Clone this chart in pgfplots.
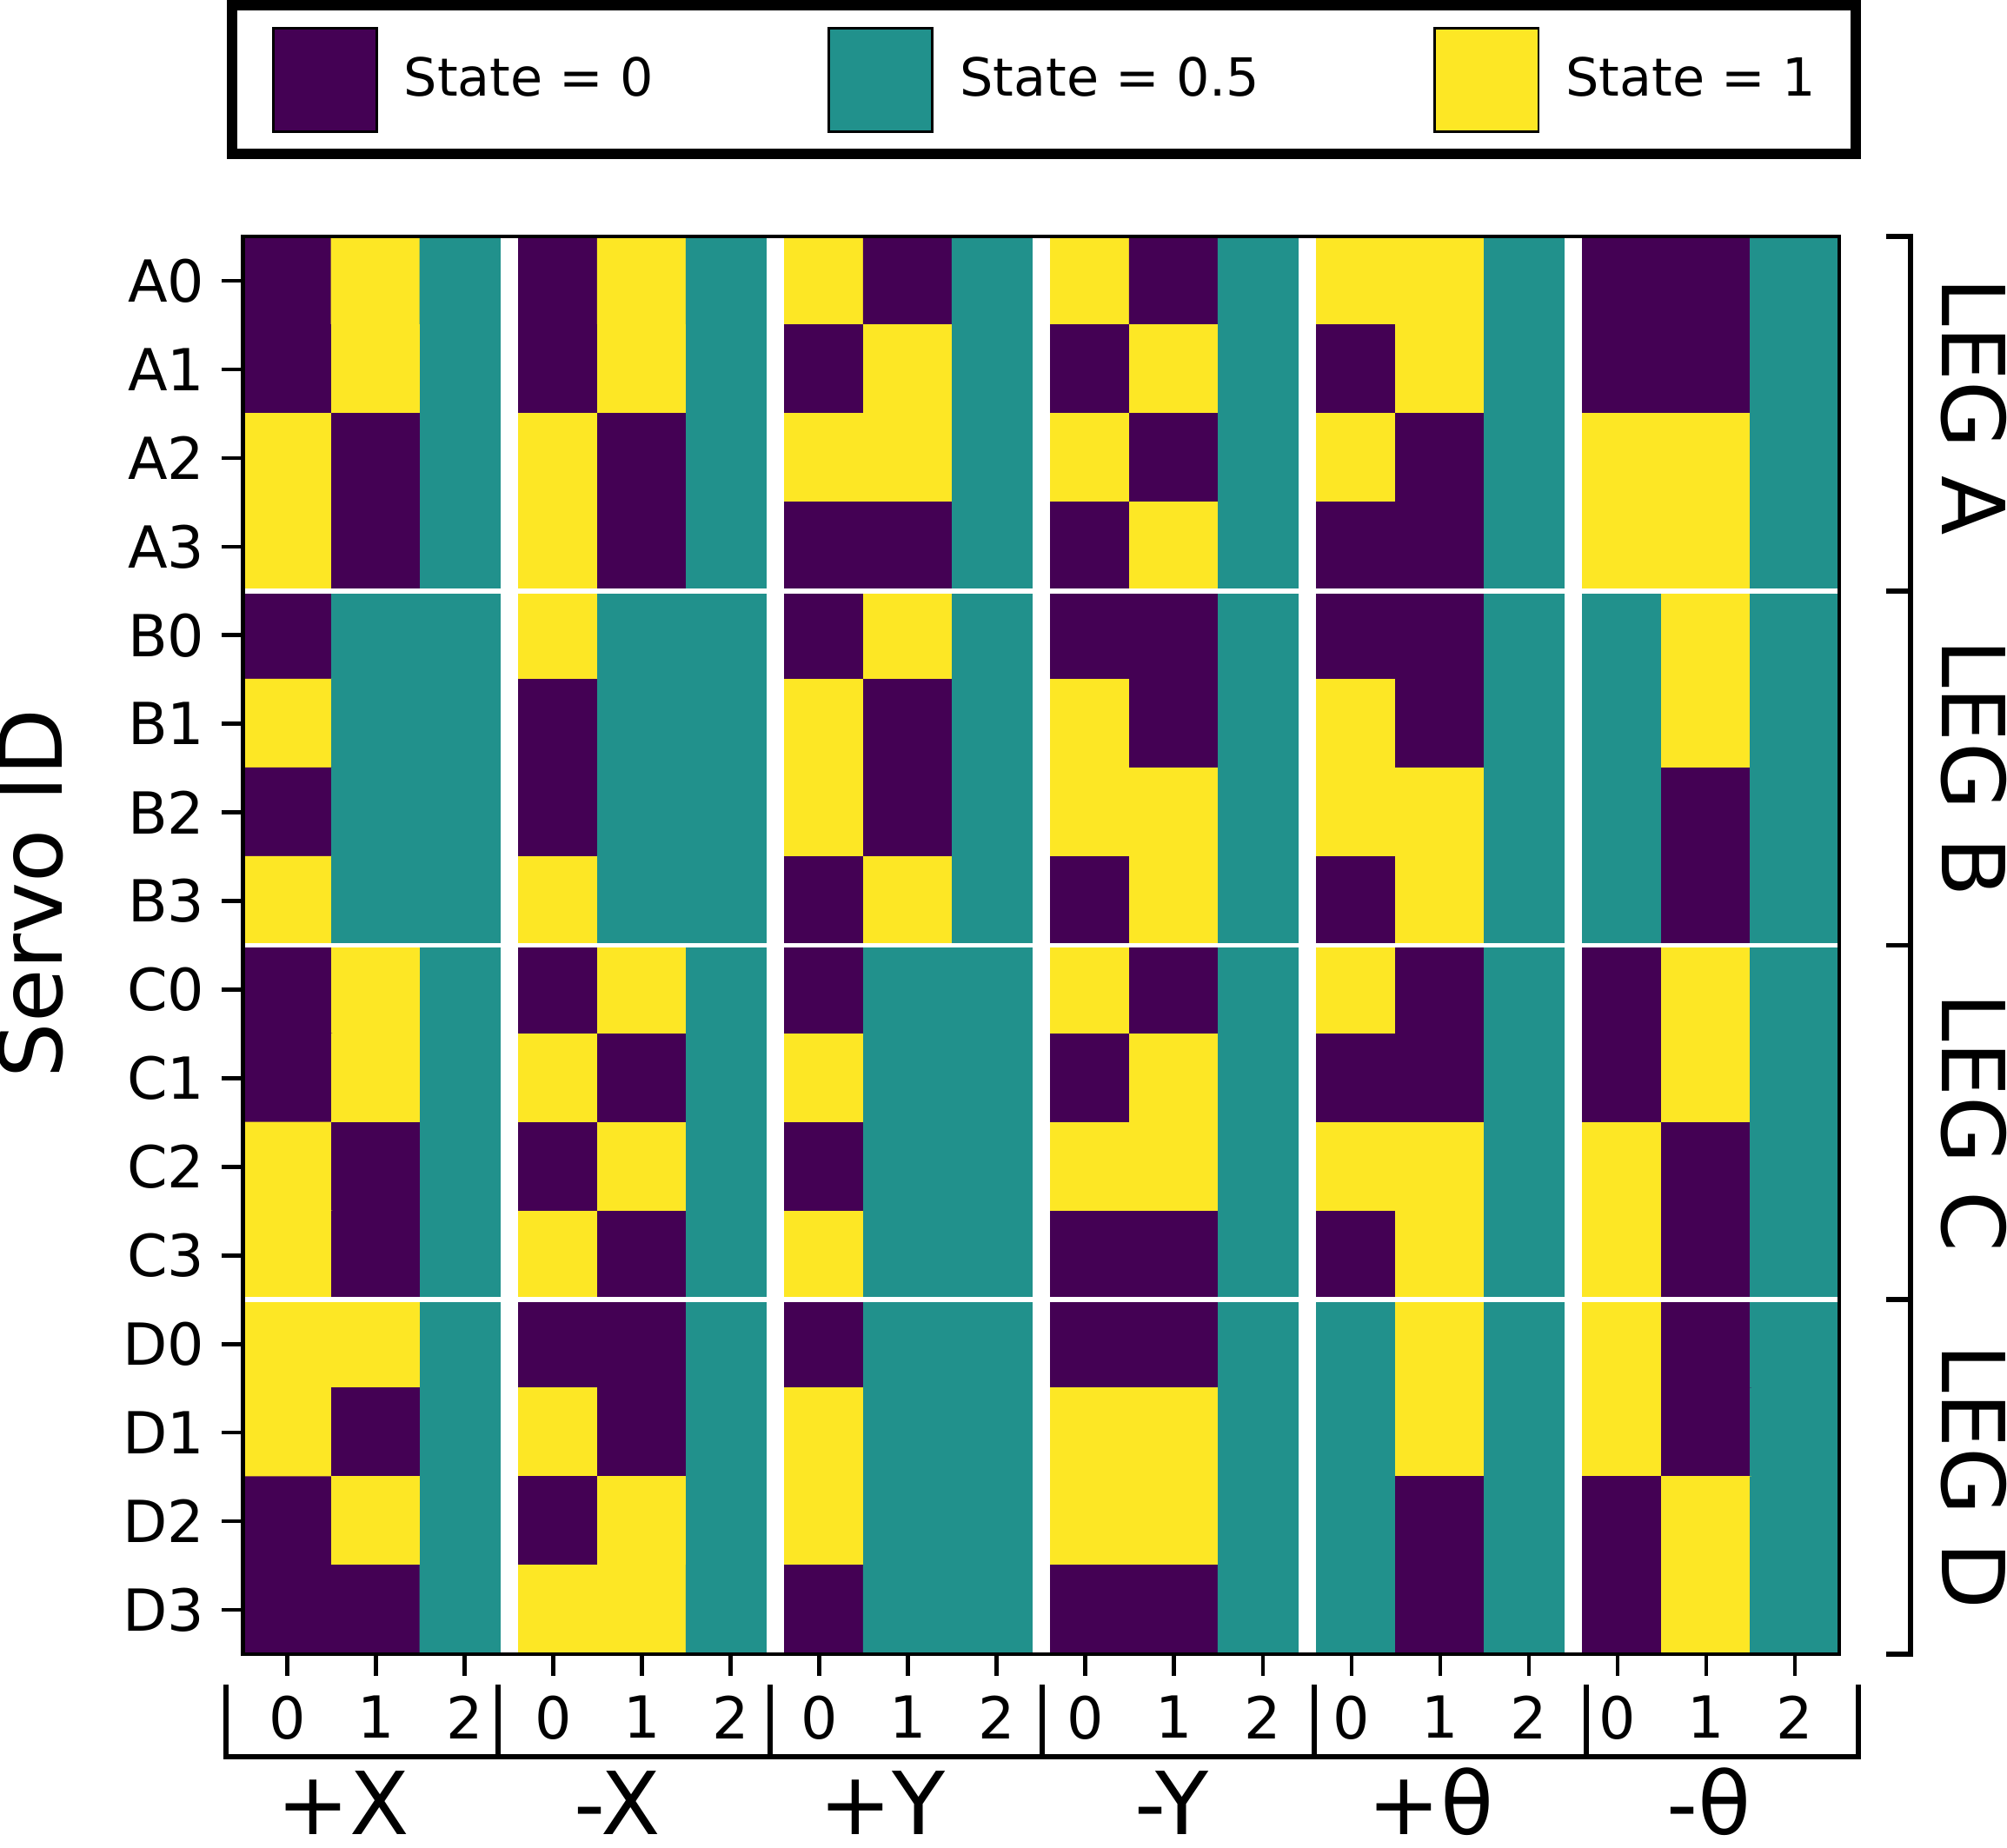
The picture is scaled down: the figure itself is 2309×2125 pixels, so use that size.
\documentclass[border=0pt]{standalone}
\usepackage{fontspec}
\setmainfont{DejaVu Sans}
\usepackage{pgfplots}
\pgfplotsset{compat=1.18}

\definecolor{vpurple}{RGB}{68,1,84}
\definecolor{vteal}{RGB}{33,145,140}
\definecolor{vyellow}{RGB}{253,231,37}

% 1 px of the reference = 0.24pt
\newcommand{\tickfont}{\fontsize{16}{19}\selectfont}
\newcommand{\bigfont}{\fontsize{24}{28}\selectfont}

\begin{document}
\begin{tikzpicture}
\begin{axis}[
    at={(67.08pt,-65.28pt)}, anchor=north west,
    scale only axis, width=440.76pt, height=391.44pt,
    xmin=-0.5, xmax=17.5, ymin=-0.5, ymax=15.5,
    y dir=reverse,
    axis on top,
    axis line style={line width=1.1pt},
    tick style={black, line width=1.1pt},
    major tick length=5.9pt,
    tick align=outside,
    xtick pos=bottom, ytick pos=left,
    xtick={0,...,17},
    xticklabels={0,1,2,0,1,2,0,1,2,0,1,2,0,1,2,0,1,2},
    ytick={0,...,15},
    yticklabels={A0,A1,A2,A3,B0,B1,B2,B3,C0,C1,C2,C3,D0,D1,D2,D3},
    ticklabel style={font=\tickfont},
    xticklabel style={inner ysep=5.5pt},
    yticklabel style={inner xsep=4.5pt},
    /pgf/number format/assume math mode=true,
    ylabel={Servo ID},
    ylabel style={font=\bigfont, at={(axis description cs:-0.113,0.5365)}, anchor=base},
    colormap={vir}{rgb255=(68,1,84) rgb255=(33,145,140) rgb255=(253,231,37)},
    colormap access=piecewise constant,
    point meta min=0, point meta max=1,
    legend columns=3,
    legend cell align=left,
    legend style={at={(-0.0068,1.1631)}, anchor=north west,
        draw=black, line width=2.8pt, outer sep=0pt,
        inner xsep=11pt, inner ysep=5.9pt,
        font=\fontsize{14.5}{17}\selectfont,
        nodes={inner sep=0pt},
        /tikz/every odd column/.append style={column sep=7.2pt},
        /tikz/every even column/.append style={column sep=48pt}},
]
% rows A0..D3, columns +X(0,1,2) -X(0,1,2) +Y -Y +theta -theta
\addplot[matrix plot, mesh/cols=18, point meta=explicit, forget plot] coordinates {
(0,0)[0] (1,0)[1] (2,0)[0.5] (3,0)[0] (4,0)[1] (5,0)[0.5] (6,0)[1] (7,0)[0] (8,0)[0.5] (9,0)[1] (10,0)[0] (11,0)[0.5] (12,0)[1] (13,0)[1] (14,0)[0.5] (15,0)[0] (16,0)[0] (17,0)[0.5]
(0,1)[0] (1,1)[1] (2,1)[0.5] (3,1)[0] (4,1)[1] (5,1)[0.5] (6,1)[0] (7,1)[1] (8,1)[0.5] (9,1)[0] (10,1)[1] (11,1)[0.5] (12,1)[0] (13,1)[1] (14,1)[0.5] (15,1)[0] (16,1)[0] (17,1)[0.5]
(0,2)[1] (1,2)[0] (2,2)[0.5] (3,2)[1] (4,2)[0] (5,2)[0.5] (6,2)[1] (7,2)[1] (8,2)[0.5] (9,2)[1] (10,2)[0] (11,2)[0.5] (12,2)[1] (13,2)[0] (14,2)[0.5] (15,2)[1] (16,2)[1] (17,2)[0.5]
(0,3)[1] (1,3)[0] (2,3)[0.5] (3,3)[1] (4,3)[0] (5,3)[0.5] (6,3)[0] (7,3)[0] (8,3)[0.5] (9,3)[0] (10,3)[1] (11,3)[0.5] (12,3)[0] (13,3)[0] (14,3)[0.5] (15,3)[1] (16,3)[1] (17,3)[0.5]
(0,4)[0] (1,4)[0.5] (2,4)[0.5] (3,4)[1] (4,4)[0.5] (5,4)[0.5] (6,4)[0] (7,4)[1] (8,4)[0.5] (9,4)[0] (10,4)[0] (11,4)[0.5] (12,4)[0] (13,4)[0] (14,4)[0.5] (15,4)[0.5] (16,4)[1] (17,4)[0.5]
(0,5)[1] (1,5)[0.5] (2,5)[0.5] (3,5)[0] (4,5)[0.5] (5,5)[0.5] (6,5)[1] (7,5)[0] (8,5)[0.5] (9,5)[1] (10,5)[0] (11,5)[0.5] (12,5)[1] (13,5)[0] (14,5)[0.5] (15,5)[0.5] (16,5)[1] (17,5)[0.5]
(0,6)[0] (1,6)[0.5] (2,6)[0.5] (3,6)[0] (4,6)[0.5] (5,6)[0.5] (6,6)[1] (7,6)[0] (8,6)[0.5] (9,6)[1] (10,6)[1] (11,6)[0.5] (12,6)[1] (13,6)[1] (14,6)[0.5] (15,6)[0.5] (16,6)[0] (17,6)[0.5]
(0,7)[1] (1,7)[0.5] (2,7)[0.5] (3,7)[1] (4,7)[0.5] (5,7)[0.5] (6,7)[0] (7,7)[1] (8,7)[0.5] (9,7)[0] (10,7)[1] (11,7)[0.5] (12,7)[0] (13,7)[1] (14,7)[0.5] (15,7)[0.5] (16,7)[0] (17,7)[0.5]
(0,8)[0] (1,8)[1] (2,8)[0.5] (3,8)[0] (4,8)[1] (5,8)[0.5] (6,8)[0] (7,8)[0.5] (8,8)[0.5] (9,8)[1] (10,8)[0] (11,8)[0.5] (12,8)[1] (13,8)[0] (14,8)[0.5] (15,8)[0] (16,8)[1] (17,8)[0.5]
(0,9)[0] (1,9)[1] (2,9)[0.5] (3,9)[1] (4,9)[0] (5,9)[0.5] (6,9)[1] (7,9)[0.5] (8,9)[0.5] (9,9)[0] (10,9)[1] (11,9)[0.5] (12,9)[0] (13,9)[0] (14,9)[0.5] (15,9)[0] (16,9)[1] (17,9)[0.5]
(0,10)[1] (1,10)[0] (2,10)[0.5] (3,10)[0] (4,10)[1] (5,10)[0.5] (6,10)[0] (7,10)[0.5] (8,10)[0.5] (9,10)[1] (10,10)[1] (11,10)[0.5] (12,10)[1] (13,10)[1] (14,10)[0.5] (15,10)[1] (16,10)[0] (17,10)[0.5]
(0,11)[1] (1,11)[0] (2,11)[0.5] (3,11)[1] (4,11)[0] (5,11)[0.5] (6,11)[1] (7,11)[0.5] (8,11)[0.5] (9,11)[0] (10,11)[0] (11,11)[0.5] (12,11)[0] (13,11)[1] (14,11)[0.5] (15,11)[1] (16,11)[0] (17,11)[0.5]
(0,12)[1] (1,12)[1] (2,12)[0.5] (3,12)[0] (4,12)[0] (5,12)[0.5] (6,12)[0] (7,12)[0.5] (8,12)[0.5] (9,12)[0] (10,12)[0] (11,12)[0.5] (12,12)[0.5] (13,12)[1] (14,12)[0.5] (15,12)[1] (16,12)[0] (17,12)[0.5]
(0,13)[1] (1,13)[0] (2,13)[0.5] (3,13)[1] (4,13)[0] (5,13)[0.5] (6,13)[1] (7,13)[0.5] (8,13)[0.5] (9,13)[1] (10,13)[1] (11,13)[0.5] (12,13)[0.5] (13,13)[1] (14,13)[0.5] (15,13)[1] (16,13)[0] (17,13)[0.5]
(0,14)[0] (1,14)[1] (2,14)[0.5] (3,14)[0] (4,14)[1] (5,14)[0.5] (6,14)[1] (7,14)[0.5] (8,14)[0.5] (9,14)[1] (10,14)[1] (11,14)[0.5] (12,14)[0.5] (13,14)[0] (14,14)[0.5] (15,14)[0] (16,14)[1] (17,14)[0.5]
(0,15)[0] (1,15)[0] (2,15)[0.5] (3,15)[1] (4,15)[1] (5,15)[0.5] (6,15)[0] (7,15)[0.5] (8,15)[0.5] (9,15)[0] (10,15)[0] (11,15)[0.5] (12,15)[0.5] (13,15)[0] (14,15)[0.5] (15,15)[0] (16,15)[1] (17,15)[0.5]
};
% white separators between directions and between legs
\pgfplotsinvokeforeach{2.5,5.5,8.5,11.5,14.5}{
    \draw[white, line width=4.8pt] (axis cs:#1,-0.5) -- (axis cs:#1,15.5);
}
\pgfplotsinvokeforeach{3.5,7.5,11.5}{
    \draw[white, line width=1.4pt] (axis cs:-0.5,#1) -- (axis cs:17.5,#1);
}
\addlegendimage{legend image code/.code={\draw[black, line width=0.7pt, fill=vpurple] (0pt,-14.3pt) rectangle (28.6pt,14.3pt);}}
\addlegendentry{State = 0}
\addlegendimage{legend image code/.code={\draw[black, line width=0.7pt, fill=vteal] (0pt,-14.3pt) rectangle (28.6pt,14.3pt);}}
\addlegendentry{State = 0.5}
\addlegendimage{legend image code/.code={\draw[black, line width=0.7pt, fill=vyellow] (0pt,-14.3pt) rectangle (28.6pt,14.3pt);}}
\addlegendentry{State = 1}
\end{axis}

\begin{scope}[x=0.24pt, y=-0.24pt]
% leg brackets on the right
\draw[line width=1.35pt] (2170,272) -- (2198,272) -- (2198,1903) -- (2170,1903);
\foreach \yy in {679.75,1087.5,1495.25}
    \draw[line width=1.35pt] (2170,\yy) -- (2198,\yy);
\foreach \lab/\yy in {A/468,B/883.6,C/1291.4,D/1699.1}
    \node[rotate=-90, anchor=base, font=\bigfont, inner sep=0pt] at (2234,\yy) {LEG \lab};
% direction brackets below
\draw[line width=1.4pt] (260,1938) -- (260,2021) -- (2138,2021) -- (2138,1938);
\foreach \xx in {573,886,1199,1512,1825}
    \draw[line width=1.4pt] (\xx,1938) -- (\xx,2021);
\foreach \lab/\xx in {+X/395,-X/710,+Y/1015,-Y/1348,+θ/1646,-θ/1966}
    \node[anchor=base, font=\bigfont, inner sep=0pt] at (\xx,2110) {\lab};
\pgfresetboundingbox
\path[use as bounding box] (0,0) rectangle (2309,2125);
\end{scope}
\end{tikzpicture}
\end{document}
